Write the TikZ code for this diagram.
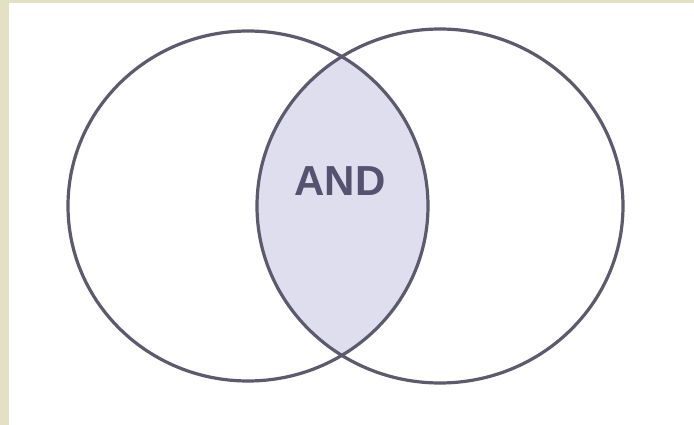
\documentclass[tikz,border=0pt]{standalone}
\usepackage{fontspec}
\setmainfont{Liberation Sans}
\usepackage{tikz}
\usetikzlibrary{positioning}
\usepackage{xcolor}
\definecolor{cFrame}{RGB}{228,224,196}
\definecolor{cLine}{RGB}{92,90,108}
\definecolor{cLens}{RGB}{222,222,238}
\definecolor{cText}{RGB}{84,82,110}

\begin{document}
\begin{tikzpicture}[x=1pt, y=-1pt]
  % frame
  \useasboundingbox (0,0) rectangle (694,425);
  \fill[cFrame] (0,0) rectangle (694,425);
  \fill[white] (9,3) rectangle (694,425);
  % overlap
  \begin{scope}
    \clip (248,206) ellipse [x radius=180, y radius=175];
    \fill[cLens] (440,206) ellipse [x radius=183, y radius=177];
  \end{scope}
  % sets
  \draw[cLine, line width=3.2pt] (248,206) ellipse [x radius=180, y radius=175];
  \draw[cLine, line width=3.2pt] (440,206) ellipse [x radius=183, y radius=177];
  \node[font=\fontsize{42}{48}\selectfont\bfseries, text=cText] (and) at (340,181) {AND};
\end{tikzpicture}
\end{document}
